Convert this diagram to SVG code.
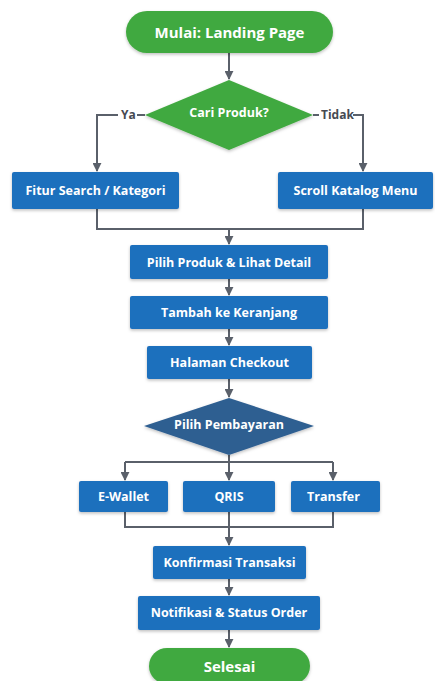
<svg xmlns="http://www.w3.org/2000/svg" width="435" height="681" viewBox="0 0 435 681">
<defs>
<marker id="ah" viewBox="0 0 10 10" refX="9" refY="5" markerWidth="9" markerHeight="9" markerUnits="userSpaceOnUse" orient="auto">
<path d="M0,0 L10,5 L0,10 z" fill="#5a606a"/>
</marker>
<filter id="sh" x="-10%" y="-20%" width="120%" height="150%">
<feDropShadow dx="0" dy="1.5" stdDeviation="1.5" flood-color="#000" flood-opacity="0.25"/>
</filter>
</defs>
<style>
.green{fill:#41a93f;filter:url(#sh)}
.blue{fill:#1d6fbd;filter:url(#sh)}
.dblue{fill:#2f5f91;filter:url(#sh)}
.t{font-family:"Open Sans","DejaVu Sans",sans-serif;font-weight:bold;fill:#fff;text-anchor:middle;dominant-baseline:central;font-size:12.5px}
.tl{font-size:15px}
.lbl{font-family:"Open Sans","DejaVu Sans",sans-serif;font-weight:bold;fill:#454a52;font-size:12px;dominant-baseline:central}
.c{fill:none;stroke:#5a606a;stroke-width:2}
.ca{fill:none;stroke:#5a606a;stroke-width:2;marker-end:url(#ah)}
</style>
<rect width="435" height="681" fill="#ffffff"/>
<g id="connectors">
<path class="ca" d="M229,53 V79"/>
<path class="c" d="M145,115 H137"/>
<path class="ca" d="M118,115 H97 V171"/>
<path class="c" d="M313,115 H319"/>
<path class="ca" d="M353,115 H363 V171"/>
<path class="c" d="M97,209 V229 H363 V209"/>
<path class="ca" d="M229,229 V244"/>
<path class="ca" d="M229,279 V295"/>
<path class="ca" d="M229,329 V345"/>
<path class="ca" d="M229,379 V397"/>
<path class="c" d="M229,455 V462"/>
<path class="c" d="M125,462 H333"/>
<path class="ca" d="M125,462 V480"/>
<path class="ca" d="M229,462 V480"/>
<path class="ca" d="M333,462 V480"/>
<path class="c" d="M125,512 V527 H333 V512"/>
<path class="ca" d="M229,512 V545"/>
<path class="ca" d="M229,579 V595"/>
<path class="ca" d="M229,630 V647"/>
<text class="lbl" x="121" y="114">Ya</text>
<text class="lbl" x="321" y="114">Tidak</text>
</g>
<g id="start">
<rect class="green" x="126" y="11" width="207" height="42" rx="21"/>
<text class="t tl" x="229.5" y="32">Mulai: Landing Page</text>
</g>
<g id="cari-produk">
<polygon class="green" points="229,80 313,115 229,150 145,115"/>
<text class="t" x="229" y="112" font-size="13">Cari Produk?</text>
</g>
<g id="fitur-search">
<rect class="blue" x="12" y="172" width="167" height="37" rx="2"/>
<text class="t" x="95.5" y="190.5">Fitur Search / Kategori</text>
</g>
<g id="scroll-katalog">
<rect class="blue" x="278" y="172" width="155" height="37" rx="2"/>
<text class="t" x="355.5" y="190.5">Scroll Katalog Menu</text>
</g>
<g id="pilih-produk">
<rect class="blue" x="130" y="245" width="198" height="34" rx="2"/>
<text class="t" x="229" y="262">Pilih Produk &amp; Lihat Detail</text>
</g>
<g id="tambah-keranjang">
<rect class="blue" x="130" y="296" width="198" height="33" rx="2"/>
<text class="t" x="229" y="312.5">Tambah ke Keranjang</text>
</g>
<g id="checkout">
<rect class="blue" x="147" y="346" width="165" height="33" rx="2"/>
<text class="t" x="229.5" y="362">Halaman Checkout</text>
</g>
<g id="pilih-pembayaran">
<polygon class="dblue" points="229,398 314,426 229,455 144,426"/>
<text class="t" x="229" y="424" font-size="12">Pilih Pembayaran</text>
</g>
<g id="ewallet">
<rect class="blue" x="79" y="481" width="89" height="31" rx="2"/>
<text class="t" x="123.5" y="496">E-Wallet</text>
</g>
<g id="qris">
<rect class="blue" x="183" y="481" width="92" height="31" rx="2"/>
<text class="t" x="229" y="496">QRIS</text>
</g>
<g id="transfer">
<rect class="blue" x="291" y="481" width="89" height="31" rx="2"/>
<text class="t" x="333.5" y="496">Transfer</text>
</g>
<g id="konfirmasi">
<rect class="blue" x="153" y="546" width="153" height="33" rx="2"/>
<text class="t" x="229.5" y="562">Konfirmasi Transaksi</text>
</g>
<g id="notifikasi">
<rect class="blue" x="138" y="596" width="182" height="34" rx="2"/>
<text class="t" x="229" y="612.5">Notifikasi &amp; Status Order</text>
</g>
<g id="selesai">
<rect class="green" x="149" y="648" width="161" height="36" rx="18"/>
<text class="t tl" x="229.5" y="666">Selesai</text>
</g>
</svg>
